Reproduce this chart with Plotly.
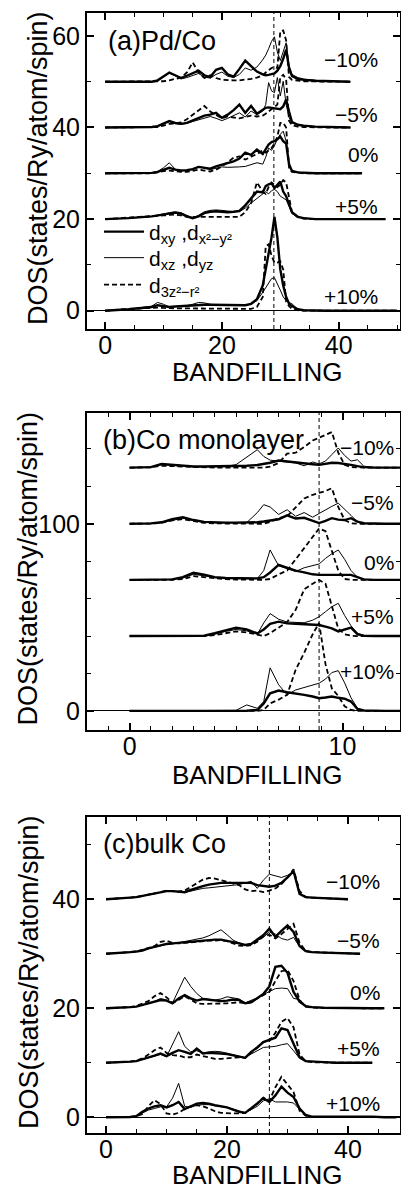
import plotly.graph_objects as go

W, H = 401, 1190
FONT = "Liberation Sans, Arial, Helvetica, sans-serif"

# ---------------- Panel (a) Pd/Co ----------------
A_X = [0, 4, 8, 9, 10, 11, 12, 13, 14, 15, 16, 17, 18, 19, 20, 21, 22, 23, 24, 25,
       26, 27, 27.5, 28, 28.5, 29, 29.5, 30, 30.5, 31, 31.5, 32, 33, 34, 36, 38, 42, 44, 48, 50]
A_OFFSETS = [50, 40, 30, 20, 0]
A_LABELS = ["\u221210%", "\u22125%", "0%", "+5%", "+10%"]
A_LABEL_Y = [54.9, 42.8, 34.1, 22.7, 3.1]
A_LABEL_X = 47.0
A_FERMI = 28.9

A_M10_XY = [0, 0, 0, 0.3, 1.2, 2.0, 1.4, 0.8, 1.3, 1.8,
            2.4, 1.4, 1.0, 2.6, 3.0, 1.6, 1.1, 2.8, 4.6, 3.4,
            2.2, 1.6, 1.4, 1.5, 1.6, 1.8, 2.4, 3.4, 5.0, 7.0,
            3.0, 1.2, 0.6, 0.4, 0.2, 0.1, 0, None, None, None]
A_M10_XZ = [0, 0, 0, 0.2, 1.0, 1.9, 1.3, 0.6, 0.9, 1.3,
            1.8, 1.0, 0.8, 1.6, 2.1, 1.2, 0.9, 1.6, 3.0, 2.5,
            3.2, 4.8, 5.8, 7.2, 8.8, 9.8, 6.5, 4.6, 6.5, 8.5,
            3.5, 1.6, 0.9, 0.6, 0.3, 0.1, 0, None, None, None]
A_M10_Z2 = [0, 0, 0, 0, 0.1, 0.3, 0.6, 0.9, 2.0, 4.2,
            2.0, 0.8, 1.4, 0.8, 0.4, 0.3, 0.3, 0.3, 0.4, 0.6,
            0.9, 1.4, 2.0, 2.6, 3.0, 3.2, 3.0, 11.0, 11.2, 9.0,
            1.0, 0.4, 0.2, 0.1, 0.05, 0, 0, None, None, None]

A_M5_XY = [0, 0, 0.1, 0.3, 0.8, 1.4, 1.0, 0.8, 1.0, 1.5,
           2.1, 2.6, 2.8, 3.2, 2.1, 2.8, 3.8, 5.0, 3.2, 4.7,
           3.0, 3.8, 4.3, 4.4, 4.3, 4.3, 4.2, 4.0, 4.6, 6.1,
           3.5, 1.2, 0.6, 0.4, 0.2, 0.1, 0, None, None, None]
A_M5_XZ = [0, 0, 0.1, 0.3, 0.9, 1.3, 0.8, 0.7, 0.9, 1.3,
           1.7, 2.0, 2.4, 2.0, 1.5, 2.0, 2.6, 3.2, 2.3, 3.6,
           2.8, 3.6, 5.0, 9.8, 8.0, 7.6, 10.9, 6.9, 10.1, 5.0,
           2.2, 1.0, 0.5, 0.3, 0.2, 0.1, 0, None, None, None]
A_M5_Z2 = [0, 0, 0, 0.1, 0.4, 0.8, 0.9, 1.1, 1.8, 2.8,
           3.8, 4.7, 3.5, 2.8, 2.0, 2.4, 2.2, 2.0, 2.3, 2.6,
           2.4, 2.6, 3.0, 3.5, 4.0, 4.5, 5.0, 11.0, 11.5, 10.5,
           1.5, 0.5, 0.2, 0.1, 0, 0, 0, None, None, None]

A_P0_XY = [0, 0, 0.1, 0.3, 0.8, 1.2, 0.8, 0.6, 0.7, 0.9,
           1.4, 1.2, 1.0, 1.5, 1.9, 2.2, 2.6, 3.2, 4.5, 4.0,
           5.2, 4.2, 5.2, 6.3, 6.8, 7.0, 7.4, 8.0, 7.0, 6.5,
           2.0, 0.5, 0.2, 0.1, 0, 0, 0, 0, None, None]
A_P0_XZ = [0, 0, 0.1, 0.4, 1.2, 2.3, 0.9, 0.5, 0.6, 0.8,
           1.5, 1.1, 0.8, 1.1, 1.4, 1.3, 1.3, 1.4, 1.5, 1.9,
           2.3, 2.0, 3.5, 5.5, 5.0, 6.0, 7.5, 8.5, 9.2, 7.0,
           1.5, 0.4, 0.2, 0.1, 0, 0, 0, 0, None, None]
A_P0_Z2 = [0, 0, 0, 0.2, 0.5, 0.6, 0.4, 0.3, 0.3, 0.5,
           0.8, 0.6, 0.4, 0.8, 1.5, 2.4, 3.4, 3.7, 3.0, 3.6,
           4.2, 5.0, 4.5, 5.0, 5.5, 6.5, 8.0, 11.0, 11.0, 10.0,
           1.2, 0.3, 0.1, 0, 0, 0, 0, 0, None, None]

A_P5_XY = [0, 0.2, 0.6, 0.8, 1.0, 1.2, 1.4, 1.2, 0.6, 0.2,
           0.6, 1.3, 1.6, 1.7, 1.6, 1.5, 1.6, 1.8, 3.0, 4.4,
           6.0, 5.8, 7.2, 7.6, 7.8, 6.8, 7.6, 8.2, 6.0, 5.0,
           3.2, 1.5, 0.5, 0.2, 0, 0, 0, 0, 0, None]
A_P5_XZ = [0, 0.2, 0.6, 0.9, 1.1, 1.4, 1.6, 1.4, 0.8, 0.3,
           0.8, 1.6, 1.9, 2.0, 1.9, 1.7, 1.6, 1.6, 2.4, 3.5,
           4.5, 5.5, 6.0, 5.5, 6.2, 6.5, 6.0, 5.0, 4.5, 4.2,
           2.8, 1.2, 0.5, 0.2, 0, 0, 0, 0, 0, None]
A_P5_Z2 = [0, 0.3, 0.5, 0.6, 0.8, 0.9, 1.0, 0.8, 0.5, 0.5,
           0.5, 0.5, 0.5, 0.5, 0.5, 0.5, 0.5, 0.5, 1.5, 3.5,
           8.0, 6.0, 5.5, 7.0, 8.0, 7.5, 7.0, 7.5, 8.5, 8.0,
           5.0, 1.5, 0.4, 0.1, 0, 0, 0, 0, 0, None]

A_P10_XY = [0, 0.3, 0.8, 1.2, 1.0, 0.8, 0.9, 1.0, 1.1, 1.2,
            1.3, 1.3, 1.3, 1.3, 1.3, 1.3, 1.3, 1.3, 1.2, 1.5,
            2.5, 5.5, 9.0, 12.0, 16.0, 20.5, 16.0, 9.0, 5.5, 3.0,
            1.5, 1.0, 0.3, 0.1, 0, 0, 0, 0, 0, 0]
A_P10_XZ = [0, 0.3, 1.0, 1.8, 1.4, 0.8, 0.9, 1.0, 1.1, 1.4,
            1.8, 1.7, 1.4, 1.3, 1.2, 1.2, 1.2, 1.2, 1.2, 1.4,
            2.2, 4.0, 5.0, 6.0, 7.0, 7.2, 6.0, 4.5, 3.0, 2.2,
            1.8, 1.5, 0.3, 0.1, 0, 0, 0, 0, 0, 0]
A_P10_Z2 = [0, 0.4, 0.6, 0.7, 0.6, 0.5, 0.5, 0.5, 0.5, 0.5,
            0.5, 0.4, 0.4, 0.4, 0.4, 0.4, 0.4, 0.4, 0.4, 0.4,
            0.8, 3.0, 14.0, 14.5, 12.0, 10.5, 10.5, 10.8, 9.0, 2.0,
            1.0, 0.4, 0.1, 0, 0, 0, 0, 0, 0, 0]

# ---------------- Panel (b) Co monolayer ----------------
B_X = [0, 0.5, 1, 1.5, 2, 2.5, 3, 3.5, 4, 4.5, 5, 5.5, 6, 6.3, 6.6, 7, 7.4, 7.8, 8.2, 8.6,
       8.9, 9.2, 9.5, 9.8, 10.1, 10.4, 10.7, 11, 11.5, 12, 13]
B_OFFSETS = [130, 100, 70, 40, 0]
B_LABELS = ["\u221210%", "\u22125%", "0%", "+5%", "+10%"]
B_LABEL_Y = [140.6, 111.2, 79.1, 50.3, 20.9]
B_LABEL_X = 12.5
B_FERMI = 8.9

B_M10_XY = [0, 0, 0.3, 2.0, 1.6, 0.8, 0.6, 0.6, 0.6, 0.6,
            0.7, 1.0, 1.4, 1.8, 2.6, 3.8, 3.2, 2.8, 2.4, 1.8,
            1.5, 2.0, 2.6, 2.5, 2.2, 1.5, 0.8, 0.3, 0, 0, 0]
B_M10_XZ = [0, 0, 0.2, 1.5, 1.2, 0.6, 0.5, 0.5, 0.5, 0.6,
            1.6, 5.5, 9.6, 6.0, 4.0, 3.5, 3.2, 2.5, 1.0, 3.0,
            2.0, 3.5, 7.0, 10.5, 6.5, 3.5, 4.2, 0.8, 0.1, 0, 0]
B_M10_Z2 = [0, 0, 0.2, 1.0, 0.8, 0.3, 0.1, 0, 0, 0,
            0, 0, 0, 0, 0.5, 2.5, 7.5, 8.0, 11.0, 14.5,
            16.0, 17.5, 19.0, 8.0, 1.5, 0.3, 0, 0, 0, 0, 0]

B_M5_XY = [0, 0, 0.2, 0.8, 2.5, 3.5, 2.0, 1.0, 0.7, 0.6,
           0.6, 0.6, 0.8, 1.2, 1.8, 2.4, 4.5, 2.8, 3.2, 1.5,
           0.4, 1.5, 3.0, 2.2, 2.0, 3.0, 1.2, 0.3, 0, 0, 0]
B_M5_XZ = [0, 0, 0.1, 0.6, 2.0, 3.0, 1.7, 0.8, 0.5, 0.5,
           0.5, 0.6, 6.0, 10.2, 9.0, 5.0, 7.5, 4.0, 6.0, 3.5,
           5.5, 7.5, 9.3, 11.0, 8.0, 4.5, 1.0, 0.2, 0, 0, 0]
B_M5_Z2 = [0, 0, 0.1, 0.5, 1.8, 2.5, 1.3, 0.5, 0.2, 0.1,
           0, 0, 0, 0, 1.0, 3.0, 4.0, 9.0, 13.5, 15.5,
           16.5, 17.5, 19.0, 9.0, 2.0, 0.3, 0, 0, 0, 0, 0]

B_P0_XY = [0, 0, 0, 0, 0.3, 1.5, 3.8, 2.8, 1.5, 1.0,
           0.8, 0.7, 0.8, 1.5, 4.0, 8.0, 6.5, 5.0, 4.0, 3.0,
           2.7, 2.7, 2.7, 2.7, 2.7, 2.7, 1.5, 0.3, 0, 0, 0]
B_P0_XZ = [0, 0, 0, 0, 0.2, 1.0, 3.0, 2.2, 1.2, 0.8,
           0.6, 0.6, 0.7, 5.0, 16.0, 7.5, 6.0, 4.5, 6.5, 7.5,
           8.5, 11.5, 14.0, 16.0, 11.0, 5.0, 1.5, 0.3, 0, 0, 0]
B_P0_Z2 = [0, 0, 0, 0, 0.1, 0.5, 2.0, 1.5, 0.8, 0.4,
           0.2, 0, 0, 0, 0.5, 3.0, 5.0, 11.0, 17.0, 23.0,
           27.5, 26.0, 16.0, 5.0, 0.5, 0, 0, 0, 0, 0, 0]

B_P5_XY = [0, 0, 0, 0, 0, 0, 0, 0.2, 1.5, 3.0,
           4.5, 3.6, 1.4, 3.5, 6.5, 7.7, 6.8, 6.6, 6.4, 6.2,
           5.9, 5.0, 4.1, 2.5, 3.5, 4.5, 1.0, 0.2, 0, 0, 0]
B_P5_XZ = [0, 0, 0, 0, 0, 0, 0, 0.1, 1.0, 2.5,
           3.5, 2.8, 1.0, 7.0, 12.0, 9.0, 7.5, 7.2, 7.1, 8.5,
           10.3, 13.0, 15.7, 17.5, 11.0, 5.5, 1.5, 0.2, 0, 0, 0]
B_P5_Z2 = [0, 0, 0, 0, 0, 0, 0, 0, 0.5, 1.5,
           2.5, 2.0, 0.5, 0, 1.5, 4.5, 7.5, 14.0, 25.0, 28.0,
           30.0, 28.0, 15.7, 4.0, 1.0, 0.2, 0, 0, 0, 0, 0]

B_P10_XY = [0, 0, 0, 0, 0, 0, 0, 0, 0, 0,
            0, 0.1, 0.5, 4.0, 9.4, 10.9, 10.0, 9.4, 8.6, 7.7,
            6.8, 7.2, 7.7, 7.0, 6.5, 5.0, 1.0, 0.2, 0, 0, 0]
B_P10_XZ = [0, 0, 0, 0, 0, 0, 0, 0, 0, 0,
            0.3, 3.2, 1.4, 5.0, 23.0, 14.0, 8.6, 11.2, 12.5, 13.8,
            14.8, 17.0, 20.5, 21.5, 15.0, 7.0, 1.5, 0.2, 0, 0, 0]
B_P10_Z2 = [0, 0, 0, 0, 0, 0, 0, 0, 0, 0,
            0, 0, 0, 0.5, 4.0, 6.0, 8.6, 22.0, 31.0, 41.0,
            47.0, 25.0, 12.0, 8.0, 2.5, 0.5, 0, 0, 0, 0, 0]

# ---------------- Panel (c) bulk Co ----------------
C_X = [0, 2, 4, 5, 6, 7, 8, 9, 10, 11, 12, 13, 14, 15, 16, 17, 18, 19, 20, 21,
       22, 23, 24, 25, 26, 27, 28, 29, 30, 31, 32, 33, 34, 36, 38, 40, 42, 44, 46, 48]
C_OFFSETS = [40, 30, 20, 10, 0]
C_LABELS = ["\u221210%", "\u22125%", "0%", "+5%", "+10%"]
C_LABEL_Y = [43.2, 32.5, 22.8, 12.7, 2.6]
C_LABEL_X = 45.6
C_FERMI = 27.0

C_M10_XY = [0, 0.1, 0.3, 0.4, 0.6, 0.9, 1.1, 1.3, 1.5, 1.5,
            1.4, 1.3, 1.7, 2.1, 2.4, 2.7, 2.9, 3.0, 3.0, 3.0,
            3.1, 3.1, 3.0, 2.6, 2.4, 2.3, 2.5, 3.0, 4.0, 5.2,
            1.0, 0.4, 0.3, 0.2, 0.1, 0, None, None, None, None]
C_M10_XZ = [0, 0.1, 0.3, 0.4, 0.6, 0.9, 1.1, 1.3, 1.5, 1.5,
            1.4, 1.3, 1.5, 1.8, 2.0, 2.1, 2.2, 2.3, 2.4, 2.5,
            2.7, 3.0, 3.3, 2.0, 3.5, 4.6, 4.3, 4.0, 4.4, 5.0,
            1.0, 0.4, 0.3, 0.2, 0.1, 0, None, None, None, None]
C_M10_Z2 = [0, 0.1, 0.3, 0.4, 0.6, 0.9, 1.1, 1.3, 1.6, 1.5,
            1.4, 1.6, 2.3, 3.0, 3.6, 3.9, 3.8, 3.5, 3.2, 3.0,
            2.6, 1.8, 1.5, 1.6, 1.3, 1.6, 2.0, 2.8, 4.0, 5.5,
            1.5, 0.4, 0.3, 0.2, 0.1, 0, None, None, None, None]

C_M5_XY = [0, 0.1, 0.3, 0.4, 0.6, 1.0, 1.3, 1.6, 1.8, 1.9,
           2.0, 2.1, 2.2, 2.4, 2.5, 2.6, 2.6, 2.6, 2.4, 2.2,
           1.9, 1.6, 1.8, 2.6, 3.4, 4.6, 3.1, 4.2, 5.2, 4.0,
           1.4, 0.5, 0.3, 0.2, 0.1, 0, 0, None, None, None]
C_M5_XZ = [0, 0.1, 0.3, 0.4, 0.6, 0.9, 1.2, 1.5, 1.7, 1.8,
           2.0, 2.2, 2.4, 2.6, 2.9, 3.3, 3.8, 4.4, 3.5, 2.5,
           2.0, 1.6, 1.8, 2.4, 3.0, 4.0, 3.6, 2.8, 2.5, 3.0,
           1.3, 0.5, 0.3, 0.2, 0.1, 0, 0, None, None, None]
C_M5_Z2 = [0, 0.1, 0.3, 0.4, 0.7, 1.0, 1.4, 2.2, 2.4, 2.0,
           1.9, 2.0, 2.1, 2.3, 2.4, 2.4, 2.4, 2.5, 2.3, 1.9,
           1.5, 1.4, 1.6, 2.2, 3.2, 3.5, 2.8, 3.6, 4.6, 5.5,
           2.0, 0.5, 0.3, 0.2, 0.1, 0, 0, None, None, None]

C_P0_XY = [0, 0.05, 0.2, 0.3, 0.6, 0.9, 1.2, 1.5, 1.4, 0.9,
           1.8, 2.4, 1.8, 1.4, 1.7, 1.6, 1.4, 1.3, 1.4, 1.6,
           1.5, 0.9, 1.1, 1.8, 2.6, 4.0, 7.6, 7.8, 6.5, 3.0,
           1.2, 0.4, 0.2, 0.1, 0.05, 0, 0, 0, 0, None]
C_P0_XZ = [0, 0.05, 0.2, 0.3, 0.6, 0.9, 1.2, 1.8, 1.5, 1.0,
           3.5, 5.7, 4.0, 2.7, 1.8, 1.6, 1.5, 1.7, 2.1, 1.9,
           1.7, 1.0, 1.4, 1.9, 2.5, 3.0, 3.6, 3.7, 3.6, 1.8,
           1.6, 0.4, 0.2, 0.1, 0.05, 0, 0, 0, 0, None]
C_P0_Z2 = [0, 0.05, 0.2, 0.4, 0.8, 1.3, 2.2, 2.8, 2.0, 1.0,
           1.5, 2.2, 1.6, 0.9, 0.8, 0.8, 0.8, 0.9, 0.9, 1.0,
           1.1, 0.9, 1.2, 1.8, 2.4, 3.0, 5.0, 6.8, 7.0, 5.0,
           1.5, 0.3, 0.1, 0.05, 0, 0, 0, 0, 0, None]

C_P5_XY = [0, 0.05, 0.2, 0.3, 0.6, 0.9, 1.3, 1.7, 1.2, 1.8,
           2.3, 2.0, 1.6, 2.6, 1.7, 1.8, 1.8, 1.7, 1.6, 1.4,
           1.2, 0.9, 2.0, 2.8, 3.8, 4.2, 4.6, 6.3, 6.0, 3.5,
           1.0, 0.3, 0.2, 0.1, 0, 0, 0, 0, None, None]
C_P5_XZ = [0, 0.05, 0.2, 0.3, 0.6, 0.9, 1.2, 1.5, 1.1, 3.5,
           5.7, 3.0, 2.0, 2.2, 1.8, 2.0, 2.1, 2.0, 1.7, 1.4,
           1.1, 0.9, 1.6, 2.2, 2.8, 2.9, 3.0, 3.3, 3.5, 2.2,
           0.8, 0.3, 0.2, 0.1, 0, 0, 0, 0, None, None]
C_P5_Z2 = [0, 0.05, 0.2, 0.4, 0.8, 1.5, 2.3, 2.8, 1.8, 1.4,
           1.3, 1.0, 1.0, 1.5, 1.2, 0.9, 0.7, 0.7, 0.8, 1.0,
           1.0, 0.9, 1.8, 2.8, 3.8, 4.0, 5.5, 7.5, 8.2, 6.5,
           1.5, 0.3, 0.1, 0, 0, 0, 0, 0, None, None]

C_P10_XY = [0, 0, 0.05, 0.2, 1.0, 1.6, 2.0, 2.2, 1.8, 2.2,
            2.8, 1.5, 2.0, 2.5, 2.6, 2.5, 2.2, 2.0, 1.8, 1.4,
            1.0, 0.8, 1.6, 2.5, 3.5, 2.8, 4.0, 5.6, 4.5, 3.7,
            1.6, 0.4, 0.1, 0.1, 0.1, 0.1, 0.2, 0.1, 0, 0]
C_P10_XZ = [0, 0, 0.05, 0.2, 0.8, 1.3, 1.6, 1.9, 1.9, 3.5,
            6.2, 2.0, 1.8, 2.2, 2.3, 2.3, 2.1, 2.0, 1.8, 1.5,
            1.1, 0.8, 1.4, 2.0, 3.0, 3.4, 2.8, 2.8, 2.8, 2.6,
            1.4, 0.3, 0.1, 0.05, 0, 0, 0, 0, 0, 0]
C_P10_Z2 = [0, 0, 0.05, 0.2, 0.6, 2.0, 3.1, 2.4, 0.7, 0.5,
            0.8, 1.5, 2.0, 2.2, 2.0, 1.6, 1.1, 0.8, 0.7, 0.7,
            0.7, 0.8, 1.5, 2.5, 3.6, 3.0, 5.5, 7.4, 6.0, 4.6,
            1.2, 0.3, 0.05, 0, 0, 0, 0, 0, 0, 0]

LEGEND_NAMES = ["d<sub>xy</sub> ,d<sub>x\u00b2\u2212y\u00b2</sub>",
                "d<sub>xz</sub> ,d<sub>yz</sub>",
                "d<sub>3z\u00b2\u2212r\u00b2</sub>"]
LEGEND_KEYS = ["legend", "legend2", "legend3"]
LEGEND_PY = [232, 258, 285]

STYLES = [dict(color="black", width=2.4),
          dict(color="black", width=1.0),
          dict(color="black", width=1.8, dash="5px,3px")]

PANELS = [
    dict(xa="x", ya="y", xs=A_X, offsets=A_OFFSETS, labels=A_LABELS, label_y=A_LABEL_Y,
         label_x=A_LABEL_X, fermi=A_FERMI, title="(a)Pd/Co",
         curves=[(A_M10_XY, A_M10_XZ, A_M10_Z2), (A_M5_XY, A_M5_XZ, A_M5_Z2),
                 (A_P0_XY, A_P0_XZ, A_P0_Z2), (A_P5_XY, A_P5_XZ, A_P5_Z2),
                 (A_P10_XY, A_P10_XZ, A_P10_Z2)],
         xrange=[-3.1, 50.5], yrange=[-4, 65], xdt=20, xmin=5, ydt=20, ymin=10,
         box=(87, 400, 13, 329), title_px=106, title_py=41, xt_py=372, yt_px=38),
    dict(xa="x2", ya="y2", xs=B_X, offsets=B_OFFSETS, labels=B_LABELS, label_y=B_LABEL_Y,
         label_x=B_LABEL_X, fermi=B_FERMI, title="(b)Co monolayer",
         curves=[(B_M10_XY, B_M10_XZ, B_M10_Z2), (B_M5_XY, B_M5_XZ, B_M5_Z2),
                 (B_P0_XY, B_P0_XZ, B_P0_Z2), (B_P5_XY, B_P5_XZ, B_P5_Z2),
                 (B_P10_XY, B_P10_XZ, B_P10_Z2)],
         xrange=[-2.0, 12.7], yrange=[-10.2, 159.2], xdt=10, xmin=1, ydt=100, ymin=20,
         box=(87, 400, 413, 730), title_px=101, title_py=440, xt_py=775, yt_px=27),
    dict(xa="x3", ya="y3", xs=C_X, offsets=C_OFFSETS, labels=C_LABELS, label_y=C_LABEL_Y,
         label_x=C_LABEL_X, fermi=C_FERMI, title="(c)bulk Co",
         curves=[(C_M10_XY, C_M10_XZ, C_M10_Z2), (C_M5_XY, C_M5_XZ, C_M5_Z2),
                 (C_P0_XY, C_P0_XZ, C_P0_Z2), (C_P5_XY, C_P5_XZ, C_P5_Z2),
                 (C_P10_XY, C_P10_XZ, C_P10_Z2)],
         xrange=[-3.15, 48.6], yrange=[-2.9, 55.1], xdt=20, xmin=5, ydt=20, ymin=10,
         box=(87, 400, 817, 1133), title_px=101, title_py=844, xt_py=1175, yt_px=29),
]

fig = go.Figure()
annotations = []
shapes = []
layout_axes = {}

for pi, p in enumerate(PANELS):
    for ci, (off, trio) in enumerate(zip(p["offsets"], p["curves"])):
        for si, vals in enumerate(trio):
            ys = [None if v is None else v + off for v in vals]
            fig.add_trace(go.Scatter(
                x=p["xs"], y=ys, mode="lines", line=STYLES[si],
                xaxis=p["xa"], yaxis=p["ya"],
                name=LEGEND_NAMES[si], legend=LEGEND_KEYS[si],
                showlegend=(pi == 0 and ci == 4),
                connectgaps=False, hoverinfo="skip"))
    # percent labels
    for lab, ly in zip(p["labels"], p["label_y"]):
        annotations.append(dict(text=lab, x=p["label_x"], y=ly, xref=p["xa"], yref=p["ya"],
                                xanchor="right", yanchor="middle", showarrow=False,
                                font=dict(size=21, family=FONT, color="black")))
    # Fermi level
    shapes.append(dict(type="line", xref=p["xa"], yref=p["ya"] + " domain",
                       x0=p["fermi"], x1=p["fermi"], y0=0, y1=1,
                       line=dict(color="black", width=1, dash="4px,3px")))
    l, r, t, b = p["box"]
    xdom = [l / W, r / W]
    ydom = [1 - b / H, 1 - t / H]
    axis_common = dict(showline=True, linecolor="black", linewidth=2, mirror="allticks",
                       ticks="inside", ticklen=7, tickwidth=1.5, tickcolor="black",
                       showgrid=False, tick0=0,
                       tickfont=dict(size=25, family=FONT, color="black"))
    xkey = "xaxis" if pi == 0 else "xaxis%d" % (pi + 1)
    ykey = "yaxis" if pi == 0 else "yaxis%d" % (pi + 1)
    layout_axes[xkey] = dict(axis_common, domain=xdom, range=p["xrange"], dtick=p["xdt"],
                             anchor=p["ya"], zeroline=False, ticklabelstandoff=-7,
                             minor=dict(dtick=p["xmin"], ticks="inside", ticklen=4,
                                        tickwidth=1, tickcolor="black", showgrid=False))
    layout_axes[ykey] = dict(axis_common, domain=ydom, range=p["yrange"], dtick=p["ydt"],
                             anchor=p["xa"], zeroline=True, zerolinecolor="black",
                             zerolinewidth=1,
                             minor=dict(dtick=p["ymin"], ticks="inside", ticklen=4,
                                        tickwidth=1, tickcolor="black", showgrid=False))
    # panel title
    annotations.append(dict(text=p["title"], x=p["title_px"] / W, y=1 - p["title_py"] / H,
                            xref="paper", yref="paper", xanchor="left", yanchor="middle",
                            showarrow=False, font=dict(size=27, family=FONT, color="black")))
    # axis titles
    annotations.append(dict(text="BANDFILLING", x=257 / W, y=1 - p["xt_py"] / H,
                            xref="paper", yref="paper", xanchor="center", yanchor="middle",
                            showarrow=False, font=dict(size=26, family=FONT, color="black")))
    annotations.append(dict(text="DOS(states/Ry/atom/spin)", x=p["yt_px"] / W,
                            y=1 - ((t + b) / 2 - 3) / H,
                            xref="paper", yref="paper", xanchor="center", yanchor="middle",
                            textangle=-90, showarrow=False,
                            font=dict(size=27, family=FONT, color="black")))

legends = {}
for key, py in zip(LEGEND_KEYS, LEGEND_PY):
    legends[key] = dict(x=99 / W, y=1 - py / H, xanchor="left", yanchor="middle",
                        bgcolor="rgba(0,0,0,0)", borderwidth=0, itemwidth=40,
                        tracegroupgap=0, font=dict(size=21, family=FONT, color="black"))

fig.update_layout(
    width=W, height=H, autosize=False,
    margin=dict(l=0, r=0, t=0, b=0),
    paper_bgcolor="white", plot_bgcolor="white",
    font=dict(family=FONT, color="black"),
    annotations=annotations, shapes=shapes,
    **legends,
    **layout_axes,
)

fig.write_html("out.html", config={"displayModeBar": False},
               post_script="document.body.style.margin='0px';"
                           "document.body.style.overflow='hidden';")
